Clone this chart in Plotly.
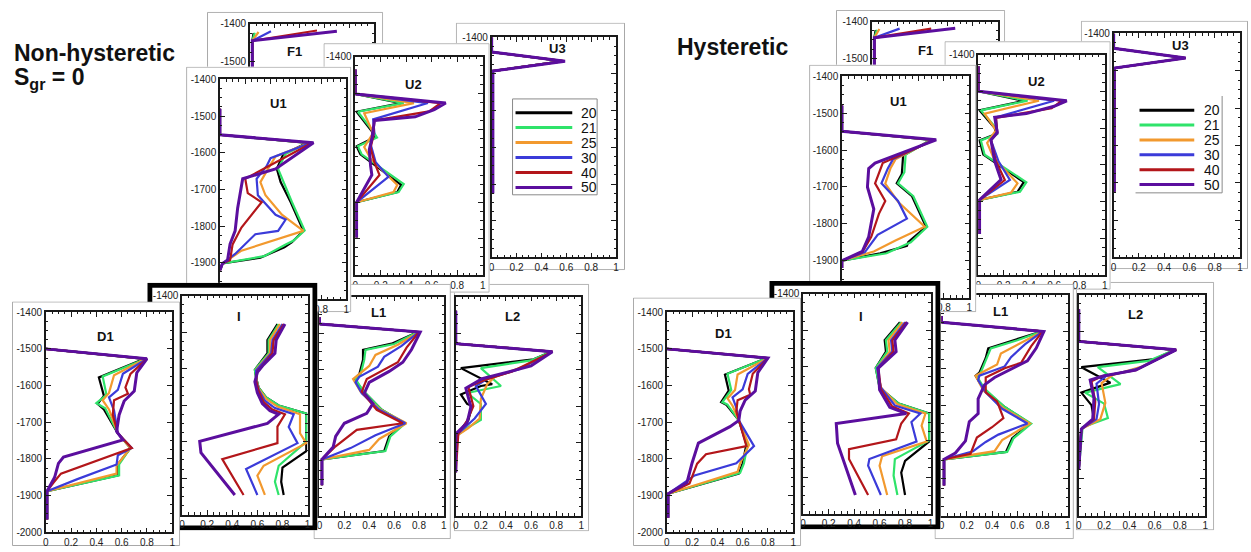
import plotly.graph_objects as go

W, H = 1251, 552

SERIES = ["20", "21", "25", "30", "40", "50"]
COLORS = ["#000000", "#2fe36a", "#f2992e", "#3b3bd9", "#b3161a", "#5b0e9e"]
WIDTHS = [2.2, 2.2, 2.2, 2.2, 2.2, 3.0]
X_TICKS = [0, 0.2, 0.4, 0.6, 0.8, 1]
X_LABELS = ["0", "0.2", "0.4", "0.6", "0.8", "1"]
Y_TICKS = [-2000, -1900, -1800, -1700, -1600, -1500, -1400]
Y_LABELS = ["-2000", "-1900", "-1800", "-1700", "-1600", "-1500", "-1400"]

# ---------------- Non-hysteretic (Sgr = 0) ----------------
NH_F1 = {
    "20": [(0.03, -1425), (0.02, -1445), (0.02, -1600)],
    "21": [(0.04, -1424), (0.02, -1445), (0.02, -1600)],
    "25": [(0.07, -1422), (0.02, -1445), (0.02, -1600)],
    "30": [(0.17, -1420), (0.02, -1445), (0.02, -1600)],
    "40": [(0.54, -1418), (0.02, -1445), (0.02, -1600)],
    "50": [(0.70, -1420), (0.02, -1445), (0.02, -1600)],
}
NH_U3 = {
    "20": [(0, -1400), (0, -1440), (0.57, -1465), (0.01, -1492), (0.01, -1826)],
    "21": [(0, -1400), (0, -1440), (0.57, -1465), (0.01, -1492), (0.01, -1826)],
    "25": [(0, -1400), (0, -1440), (0.58, -1465), (0.01, -1492), (0.01, -1826)],
    "30": [(0, -1400), (0, -1440), (0.58, -1465), (0.01, -1492), (0.01, -1826)],
    "40": [(0, -1400), (0, -1440), (0.58, -1465), (0.01, -1492), (0.01, -1826)],
    "50": [(0, -1400), (0, -1440), (0.59, -1465), (0.01, -1492), (0.01, -1826)],
}
NH_U2 = {
    "20": [(0, -1435), (0, -1502), (0.36, -1527), (0.01, -1551), (0.13, -1605), (0.15, -1622), (0.01, -1646), (0.04, -1668), (0.36, -1752), (0.33, -1772), (0.01, -1800), (0.01, -1897)],
    "21": [(0, -1435), (0, -1502), (0.38, -1527), (0.02, -1551), (0.14, -1605), (0.17, -1622), (0.02, -1646), (0.05, -1668), (0.38, -1750), (0.34, -1772), (0.01, -1800), (0.01, -1897)],
    "25": [(0, -1435), (0, -1502), (0.46, -1527), (0.07, -1555), (0.14, -1610), (0.10, -1630), (0.07, -1648), (0.12, -1680), (0.33, -1752), (0.30, -1772), (0.01, -1800), (0.01, -1897)],
    "30": [(0, -1435), (0, -1502), (0.57, -1527), (0.14, -1572), (0.15, -1610), (0.12, -1640), (0.16, -1690), (0.26, -1730), (0.01, -1800), (0.01, -1897)],
    "40": [(0, -1435), (0, -1502), (0.67, -1527), (0.58, -1550), (0.15, -1575), (0.14, -1620), (0.12, -1650), (0.15, -1690), (0.19, -1725), (0.01, -1800), (0.01, -1897)],
    "50": [(0, -1435), (0, -1502), (0.71, -1527), (0.62, -1545), (0.47, -1565), (0.15, -1575), (0.13, -1625), (0.11, -1655), (0.12, -1700), (0.13, -1725), (0.01, -1800), (0.01, -1897)],
}
NH_U1 = {
    "20": [(0, -1480), (0, -1551), (0.69, -1573), (0.50, -1605), (0.45, -1644), (0.48, -1680), (0.56, -1735), (0.66, -1813), (0.57, -1844), (0.51, -1858), (0.32, -1886), (0.02, -1902), (0, -1920)],
    "21": [(0, -1480), (0, -1551), (0.70, -1573), (0.52, -1603), (0.46, -1644), (0.50, -1678), (0.57, -1735), (0.67, -1812), (0.58, -1840), (0.52, -1850), (0.35, -1882), (0.02, -1902), (0, -1920)],
    "25": [(0, -1480), (0, -1551), (0.71, -1573), (0.44, -1610), (0.38, -1644), (0.32, -1680), (0.36, -1716), (0.49, -1769), (0.66, -1813), (0.41, -1840), (0.17, -1867), (0.02, -1902), (0, -1920)],
    "30": [(0, -1480), (0, -1551), (0.72, -1573), (0.40, -1615), (0.37, -1636), (0.29, -1671), (0.30, -1716), (0.44, -1769), (0.52, -1782), (0.46, -1813), (0.28, -1822), (0.12, -1876), (0.02, -1902), (0, -1920)],
    "40": [(0, -1480), (0, -1551), (0.73, -1573), (0.42, -1630), (0.20, -1671), (0.22, -1710), (0.33, -1735), (0.17, -1804), (0.10, -1850), (0.08, -1893), (0.02, -1902), (0, -1920)],
    "50": [(0, -1480), (0, -1551), (0.74, -1573), (0.44, -1644), (0.18, -1671), (0.14, -1751), (0.12, -1813), (0.08, -1849), (0.06, -1893), (0.02, -1902), (0, -1920)],
}
NH_L2 = {
    "20": [(0, -1439), (0, -1529), (0.76, -1551), (0.62, -1572), (0.04, -1596), (0.29, -1640), (0.20, -1645), (0.04, -1668), (0.09, -1694), (0.13, -1700), (0.10, -1738), (0.0, -1783), (0.0, -1881)],
    "21": [(0, -1439), (0, -1529), (0.76, -1551), (0.60, -1575), (0.20, -1596), (0.36, -1645), (0.09, -1664), (0.20, -1694), (0.20, -1738), (0.09, -1760), (0.0, -1783), (0.0, -1881)],
    "25": [(0, -1439), (0, -1529), (0.77, -1551), (0.55, -1590), (0.31, -1620), (0.25, -1640), (0.20, -1680), (0.19, -1734), (0.10, -1760), (0.0, -1783), (0.0, -1881)],
    "30": [(0, -1439), (0, -1529), (0.77, -1551), (0.50, -1600), (0.25, -1625), (0.16, -1645), (0.24, -1694), (0.15, -1734), (0.02, -1775), (0.0, -1783), (0.0, -1881)],
    "40": [(0, -1439), (0, -1529), (0.77, -1551), (0.45, -1605), (0.22, -1630), (0.10, -1648), (0.14, -1700), (0.09, -1740), (0.02, -1775), (0.0, -1881)],
    "50": [(0, -1439), (0, -1529), (0.77, -1551), (0.60, -1590), (0.21, -1625), (0.08, -1651), (0.12, -1702), (0.09, -1746), (0.0, -1776), (0.0, -1881)],
}
NH_L1 = {
    "20": [(0, -1457), (0, -1475), (0.79, -1497), (0.58, -1529), (0.35, -1546), (0.35, -1573), (0.32, -1613), (0.28, -1626), (0.35, -1658), (0.50, -1710), (0.68, -1747), (0.56, -1783), (0.52, -1823), (0.02, -1846), (0.02, -1917)],
    "21": [(0, -1457), (0, -1475), (0.79, -1497), (0.60, -1530), (0.37, -1546), (0.36, -1573), (0.33, -1613), (0.29, -1626), (0.35, -1658), (0.50, -1710), (0.69, -1747), (0.57, -1783), (0.53, -1823), (0.02, -1846), (0.02, -1917)],
    "25": [(0, -1457), (0, -1475), (0.80, -1497), (0.63, -1532), (0.45, -1560), (0.40, -1590), (0.27, -1626), (0.33, -1660), (0.49, -1710), (0.70, -1747), (0.48, -1790), (0.40, -1820), (0.02, -1846), (0.02, -1917)],
    "30": [(0, -1457), (0, -1475), (0.80, -1497), (0.66, -1535), (0.52, -1565), (0.47, -1592), (0.32, -1620), (0.29, -1635), (0.34, -1665), (0.48, -1710), (0.69, -1747), (0.45, -1780), (0.25, -1815), (0.02, -1846), (0.02, -1917)],
    "40": [(0, -1457), (0, -1475), (0.80, -1497), (0.70, -1540), (0.63, -1580), (0.52, -1600), (0.38, -1626), (0.34, -1660), (0.46, -1710), (0.67, -1747), (0.30, -1765), (0.13, -1810), (0.02, -1846), (0.02, -1917)],
    "50": [(0, -1457), (0, -1475), (0.81, -1497), (0.74, -1545), (0.67, -1580), (0.56, -1605), (0.40, -1635), (0.36, -1665), (0.43, -1693), (0.38, -1720), (0.20, -1747), (0.13, -1783), (0.11, -1812), (0.02, -1846), (0.02, -1917)],
}
NH_I = {
    "20": [(0.76, -1478), (0.68, -1522), (0.68, -1558), (0.61, -1589), (0.58, -1603), (0.59, -1625), (0.61, -1652), (0.67, -1679), (0.77, -1701), (0.99, -1723), (0.99, -1826), (0.80, -1871), (0.79, -1910), (0.81, -1946)],
    "21": [(0.77, -1478), (0.69, -1522), (0.69, -1558), (0.61, -1589), (0.58, -1603), (0.59, -1625), (0.61, -1652), (0.67, -1679), (0.77, -1701), (0.99, -1723), (0.99, -1800), (0.77, -1866), (0.74, -1910), (0.77, -1946)],
    "25": [(0.78, -1478), (0.70, -1522), (0.70, -1558), (0.62, -1589), (0.59, -1603), (0.59, -1627), (0.61, -1655), (0.67, -1683), (0.76, -1704), (0.94, -1725), (0.94, -1777), (0.99, -1804), (0.65, -1866), (0.60, -1893), (0.66, -1946)],
    "30": [(0.80, -1478), (0.72, -1522), (0.71, -1558), (0.63, -1589), (0.59, -1605), (0.59, -1630), (0.61, -1658), (0.66, -1688), (0.74, -1708), (0.89, -1725), (0.85, -1760), (0.92, -1804), (0.51, -1875), (0.60, -1946)],
    "40": [(0.81, -1478), (0.73, -1522), (0.72, -1558), (0.64, -1589), (0.60, -1607), (0.59, -1633), (0.61, -1662), (0.65, -1692), (0.72, -1712), (0.82, -1725), (0.76, -1759), (0.76, -1804), (0.32, -1848), (0.49, -1946)],
    "50": [(0.82, -1478), (0.75, -1522), (0.74, -1558), (0.65, -1589), (0.60, -1610), (0.58, -1636), (0.60, -1666), (0.64, -1696), (0.70, -1715), (0.77, -1725), (0.68, -1750), (0.14, -1799), (0.15, -1830), (0.42, -1946)],
}
NH_D1 = {
    "20": [(0, -1500), (0.78, -1527), (0.42, -1578), (0.46, -1628), (0.41, -1650), (0.46, -1665), (0.57, -1730), (0.67, -1770), (0.57, -1815), (0.57, -1845), (0.01, -1888), (0.01, -1965)],
    "21": [(0, -1500), (0.79, -1527), (0.45, -1575), (0.48, -1625), (0.40, -1648), (0.47, -1662), (0.57, -1730), (0.67, -1770), (0.58, -1815), (0.58, -1845), (0.01, -1888), (0.01, -1965)],
    "25": [(0, -1500), (0.79, -1527), (0.54, -1572), (0.50, -1620), (0.45, -1640), (0.50, -1665), (0.57, -1730), (0.67, -1770), (0.56, -1818), (0.56, -1840), (0.01, -1888), (0.01, -1965)],
    "30": [(0, -1500), (0.80, -1527), (0.61, -1568), (0.57, -1612), (0.50, -1632), (0.54, -1668), (0.57, -1730), (0.68, -1770), (0.57, -1790), (0.56, -1815), (0.25, -1855), (0.01, -1888), (0.01, -1965)],
    "40": [(0, -1500), (0.80, -1527), (0.67, -1568), (0.63, -1605), (0.65, -1622), (0.54, -1640), (0.53, -1680), (0.57, -1730), (0.68, -1770), (0.12, -1840), (0.06, -1865), (0.01, -1888), (0.01, -1965)],
    "50": [(0, -1500), (0.80, -1527), (0.72, -1565), (0.70, -1615), (0.62, -1642), (0.58, -1680), (0.56, -1725), (0.61, -1748), (0.14, -1795), (0.10, -1812), (0.07, -1850), (0.01, -1888), (0.01, -1965)],
}

# ---------------- Hysteretic ----------------
H_F1 = {
    "20": [(0.03, -1423), (0.02, -1444), (0.02, -1600)],
    "21": [(0.04, -1422), (0.02, -1444), (0.02, -1600)],
    "25": [(0.06, -1420), (0.02, -1444), (0.02, -1600)],
    "30": [(0.22, -1419), (0.02, -1444), (0.02, -1600)],
    "40": [(0.47, -1419), (0.02, -1444), (0.02, -1600)],
    "50": [(0.66, -1418), (0.02, -1444), (0.02, -1600)],
}
H_U3 = {
    "20": [(0, -1400), (0, -1440), (0.56, -1466), (0.005, -1493), (0.005, -1824)],
    "21": [(0, -1400), (0, -1440), (0.56, -1466), (0.005, -1493), (0.005, -1824)],
    "25": [(0, -1400), (0, -1440), (0.57, -1466), (0.005, -1493), (0.005, -1824)],
    "30": [(0, -1400), (0, -1440), (0.57, -1466), (0.005, -1493), (0.005, -1824)],
    "40": [(0, -1400), (0, -1440), (0.57, -1466), (0.005, -1493), (0.005, -1824)],
    "50": [(0, -1400), (0, -1440), (0.57, -1466), (0.005, -1493), (0.005, -1824)],
}
H_U2 = {
    "20": [(0, -1431), (0, -1499), (0.36, -1525), (0.01, -1551), (0.13, -1599), (0.14, -1616), (0.01, -1633), (0.04, -1672), (0.36, -1747), (0.31, -1773), (0.01, -1795), (0.01, -1888)],
    "21": [(0, -1431), (0, -1499), (0.39, -1525), (0.02, -1551), (0.14, -1599), (0.15, -1616), (0.02, -1633), (0.05, -1672), (0.38, -1747), (0.33, -1773), (0.01, -1795), (0.01, -1888)],
    "25": [(0, -1431), (0, -1499), (0.48, -1525), (0.05, -1560), (0.14, -1605), (0.10, -1625), (0.07, -1640), (0.12, -1680), (0.31, -1750), (0.26, -1775), (0.01, -1795), (0.01, -1888)],
    "30": [(0, -1431), (0, -1499), (0.60, -1525), (0.14, -1570), (0.15, -1610), (0.10, -1632), (0.16, -1690), (0.25, -1741), (0.01, -1795), (0.01, -1888)],
    "40": [(0, -1431), (0, -1499), (0.66, -1525), (0.58, -1545), (0.14, -1572), (0.15, -1612), (0.10, -1632), (0.14, -1690), (0.21, -1741), (0.01, -1795), (0.01, -1888)],
    "50": [(0, -1431), (0, -1499), (0.70, -1525), (0.60, -1540), (0.38, -1560), (0.13, -1570), (0.15, -1612), (0.10, -1632), (0.13, -1690), (0.18, -1740), (0.01, -1795), (0.01, -1888)],
}
H_U1 = {
    "20": [(0, -1479), (0, -1549), (0.70, -1572), (0.48, -1615), (0.47, -1665), (0.43, -1690), (0.55, -1725), (0.60, -1765), (0.66, -1808), (0.52, -1850), (0.51, -1860), (0.30, -1880), (0.0, -1900), (0, -1920)],
    "21": [(0, -1479), (0, -1549), (0.70, -1572), (0.50, -1612), (0.49, -1660), (0.44, -1690), (0.56, -1725), (0.61, -1765), (0.67, -1808), (0.54, -1850), (0.35, -1880), (0.0, -1900), (0, -1920)],
    "25": [(0, -1479), (0, -1549), (0.71, -1572), (0.42, -1625), (0.38, -1650), (0.34, -1691), (0.44, -1740), (0.65, -1808), (0.42, -1845), (0.25, -1875), (0.0, -1900), (0, -1920)],
    "30": [(0, -1479), (0, -1549), (0.72, -1572), (0.40, -1625), (0.36, -1650), (0.31, -1690), (0.44, -1738), (0.51, -1786), (0.28, -1830), (0.18, -1877), (0.0, -1900), (0, -1920)],
    "40": [(0, -1479), (0, -1549), (0.73, -1572), (0.32, -1635), (0.26, -1690), (0.34, -1738), (0.29, -1773), (0.23, -1835), (0.16, -1877), (0.0, -1900), (0, -1920)],
    "50": [(0, -1479), (0, -1549), (0.74, -1572), (0.26, -1635), (0.21, -1650), (0.20, -1700), (0.25, -1760), (0.21, -1835), (0.16, -1875), (0.0, -1900), (0, -1920)],
}
H_L2 = {
    "20": [(0, -1440), (0, -1527), (0.76, -1550), (0.60, -1575), (0.02, -1597), (0.25, -1639), (0.02, -1666), (0.10, -1700), (0.12, -1738), (0.02, -1765), (0.0, -1873)],
    "21": [(0, -1440), (0, -1527), (0.76, -1550), (0.55, -1580), (0.15, -1597), (0.33, -1643), (0.05, -1666), (0.20, -1696), (0.23, -1735), (0.03, -1760), (0.0, -1873)],
    "25": [(0, -1440), (0, -1527), (0.77, -1550), (0.50, -1595), (0.27, -1618), (0.18, -1640), (0.21, -1694), (0.17, -1738), (0.02, -1765), (0.0, -1873)],
    "30": [(0, -1440), (0, -1527), (0.77, -1550), (0.48, -1600), (0.22, -1620), (0.14, -1642), (0.16, -1697), (0.14, -1738), (0.02, -1765), (0.0, -1873)],
    "40": [(0, -1440), (0, -1527), (0.77, -1550), (0.45, -1605), (0.18, -1622), (0.10, -1635), (0.13, -1690), (0.12, -1738), (0.02, -1765), (0.0, -1873)],
    "50": [(0, -1440), (0, -1527), (0.77, -1550), (0.45, -1605), (0.20, -1620), (0.09, -1632), (0.12, -1681), (0.11, -1738), (0.02, -1765), (0.0, -1873)],
}
H_L1 = {
    "20": [(0, -1458), (0, -1475), (0.79, -1500), (0.58, -1522), (0.37, -1546), (0.35, -1572), (0.30, -1612), (0.27, -1620), (0.33, -1655), (0.50, -1705), (0.70, -1750), (0.56, -1790), (0.51, -1827), (0.02, -1847), (0.02, -1918)],
    "21": [(0, -1458), (0, -1475), (0.79, -1500), (0.60, -1524), (0.39, -1546), (0.36, -1572), (0.31, -1612), (0.28, -1622), (0.34, -1655), (0.50, -1705), (0.71, -1750), (0.57, -1790), (0.52, -1827), (0.02, -1847), (0.02, -1918)],
    "25": [(0, -1458), (0, -1475), (0.80, -1500), (0.63, -1530), (0.47, -1560), (0.44, -1590), (0.27, -1620), (0.33, -1660), (0.49, -1708), (0.70, -1750), (0.48, -1795), (0.42, -1825), (0.02, -1847), (0.02, -1918)],
    "30": [(0, -1458), (0, -1475), (0.80, -1500), (0.66, -1535), (0.55, -1570), (0.50, -1595), (0.30, -1620), (0.29, -1632), (0.35, -1665), (0.48, -1710), (0.68, -1750), (0.45, -1780), (0.35, -1800), (0.25, -1825), (0.02, -1847), (0.02, -1918)],
    "40": [(0, -1458), (0, -1475), (0.80, -1500), (0.71, -1540), (0.63, -1585), (0.50, -1600), (0.35, -1625), (0.35, -1665), (0.44, -1690), (0.49, -1735), (0.40, -1760), (0.28, -1788), (0.23, -1832), (0.02, -1847), (0.02, -1918)],
    "50": [(0, -1458), (0, -1475), (0.81, -1500), (0.75, -1545), (0.68, -1580), (0.58, -1598), (0.42, -1625), (0.34, -1645), (0.29, -1683), (0.29, -1723), (0.22, -1745), (0.19, -1797), (0.11, -1830), (0.02, -1847), (0.02, -1918)],
}
H_I = {
    "20": [(0.76, -1478), (0.64, -1527), (0.65, -1558), (0.57, -1603), (0.60, -1656), (0.75, -1700), (0.99, -1727), (0.99, -1803), (0.80, -1856), (0.77, -1888), (0.80, -1949)],
    "21": [(0.77, -1478), (0.65, -1527), (0.66, -1558), (0.57, -1603), (0.60, -1656), (0.75, -1700), (0.99, -1727), (0.99, -1800), (0.72, -1851), (0.71, -1896), (0.74, -1949)],
    "25": [(0.78, -1478), (0.67, -1527), (0.68, -1558), (0.58, -1603), (0.61, -1656), (0.74, -1702), (0.96, -1727), (0.93, -1760), (0.97, -1803), (0.62, -1843), (0.60, -1869), (0.66, -1949)],
    "30": [(0.80, -1478), (0.69, -1527), (0.70, -1558), (0.58, -1603), (0.61, -1656), (0.72, -1705), (0.92, -1727), (0.85, -1750), (0.89, -1803), (0.52, -1851), (0.51, -1869), (0.61, -1949)],
    "40": [(0.81, -1478), (0.70, -1527), (0.71, -1558), (0.59, -1603), (0.61, -1660), (0.70, -1708), (0.83, -1727), (0.77, -1754), (0.73, -1797), (0.36, -1824), (0.36, -1851), (0.51, -1949)],
    "50": [(0.82, -1478), (0.72, -1527), (0.73, -1558), (0.59, -1603), (0.60, -1662), (0.68, -1710), (0.81, -1727), (0.26, -1754), (0.27, -1808), (0.41, -1949)],
}
H_D1 = {
    "20": [(0, -1500), (0.79, -1525), (0.46, -1570), (0.49, -1614), (0.43, -1645), (0.47, -1652), (0.57, -1695), (0.63, -1760), (0.60, -1812), (0.57, -1840), (0.01, -1895), (0.01, -1960)],
    "21": [(0, -1500), (0.79, -1525), (0.48, -1568), (0.51, -1612), (0.44, -1645), (0.48, -1652), (0.57, -1695), (0.64, -1760), (0.61, -1812), (0.58, -1838), (0.01, -1895), (0.01, -1960)],
    "25": [(0, -1500), (0.80, -1525), (0.56, -1570), (0.54, -1612), (0.48, -1635), (0.52, -1655), (0.57, -1695), (0.65, -1762), (0.58, -1812), (0.56, -1835), (0.01, -1895), (0.01, -1960)],
    "30": [(0, -1500), (0.80, -1525), (0.64, -1568), (0.60, -1610), (0.52, -1632), (0.55, -1660), (0.57, -1695), (0.69, -1765), (0.55, -1812), (0.22, -1845), (0.01, -1895), (0.01, -1960)],
    "40": [(0, -1500), (0.80, -1525), (0.68, -1568), (0.65, -1610), (0.66, -1625), (0.56, -1640), (0.55, -1670), (0.57, -1695), (0.63, -1765), (0.31, -1787), (0.24, -1813), (0.18, -1867), (0.01, -1895), (0.01, -1960)],
    "50": [(0, -1500), (0.80, -1525), (0.72, -1565), (0.70, -1615), (0.62, -1640), (0.58, -1670), (0.57, -1695), (0.50, -1712), (0.25, -1757), (0.20, -1811), (0.16, -1864), (0.01, -1895), (0.01, -1960)],
}

GRAY = "#a8a8a8"
ALLX = set(X_LABELS)
ALLY = set(Y_LABELS)
# Panels in back-to-front drawing order. frame = plot area (px), box = white card (px),
# xl / yl = tick labels that are not covered by a neighbouring card.
PANELS = [
    dict(name="F1", data=NH_F1, frame=(248, 18, 373, 252), box=(205, 6, 382, 260), bc=GRAY, bw=1, title=(293, 47), xl=set(), yl={"-1400", "-1500"}),
    dict(name="U3", data=NH_U3, frame=(491, 32, 616, 257), box=(455, 17, 625, 270), bc=GRAY, bw=1, title=(557, 43), xl=ALLX, yl={"-1400"}),
    dict(name="L2", data=NH_L2, frame=(455, 297, 581, 521), box=(453, 284, 589, 537), bc=GRAY, bw=1, title=(512, 317), xl=ALLX, yl=set()),
    dict(name="U2", data=NH_U2, frame=(354, 52, 482, 275), box=(322, 38, 489, 293), bc=GRAY, bw=1, title=(412, 80), xl=ALLX, yl={"-1400"}),
    dict(name="L1", data=NH_L1, frame=(318, 297, 443, 521), box=(312, 284, 450, 545), bc=GRAY, bw=1, title=(377, 313), xl=ALLX, yl=set()),
    dict(name="U1", data=NH_U1, frame=(218, 75, 345, 300), box=(184, 62, 350, 313), bc=GRAY, bw=1, title=(277, 100), xl={"0.8", "1"}, yl=ALLY - {"-2000"}),
    dict(name="I", data=NH_I, frame=(180, 296, 306, 520), box=(145, 283, 316, 536), bc="#000000", bw=5, title=(237, 317), xl=ALLX, yl={"-1400"}),
    dict(name="D1", data=NH_D1, frame=(43, 313, 170, 538), box=(9, 302, 178, 552), bc=GRAY, bw=1, title=(103, 338), xl=ALLX, yl=ALLY),
    dict(name="F1", data=H_F1, frame=(873, 16, 1000, 241), box=(837, 4, 1007, 250), bc=GRAY, bw=1, title=(927, 45), xl=set(), yl={"-1400", "-1500"}),
    dict(name="U3", data=H_U3, frame=(1116, 28, 1243, 257), box=(1083, 15, 1251, 269), bc=GRAY, bw=1, title=(1183, 40), xl=ALLX, yl={"-1400"}),
    dict(name="L2", data=H_L2, frame=(1081, 295, 1208, 521), box=(1078, 282, 1217, 536), bc=GRAY, bw=1, title=(1138, 315), xl=ALLX, yl=set()),
    dict(name="U2", data=H_U2, frame=(980, 50, 1107, 275), box=(946, 36, 1113, 290), bc=GRAY, bw=1, title=(1038, 77), xl=ALLX, yl={"-1400"}),
    dict(name="L1", data=H_L1, frame=(943, 295, 1070, 521), box=(936, 284, 1076, 545), bc=GRAY, bw=1, title=(1002, 312), xl=ALLX, yl=set()),
    dict(name="U1", data=H_U1, frame=(843, 72, 971, 298), box=(810, 60, 978, 313), bc=GRAY, bw=1, title=(900, 98), xl={"0.8", "1"}, yl=ALLY - {"-2000"}),
    dict(name="I", data=H_I, frame=(804, 294, 932, 519), box=(770, 281, 942, 535), bc="#000000", bw=5, title=(862, 317), xl=ALLX, yl={"-1400"}),
    dict(name="D1", data=H_D1, frame=(667, 313, 794, 538), box=(633, 298, 802, 552), bc=GRAY, bw=1, title=(724, 335), xl=ALLX, yl=ALLY),
]

# manual legends (box l,t,r,b ; line x0,x1 ; text x ; first row y ; row step ; which edges drawn)
LEGENDS = [
    dict(box=(512, 95, 597, 193), line=(515, 572), tx=579, y0=109, dy=15.3, full=True),
    dict(box=(1138, 92, 1225, 191), line=(1142, 1197), tx=1205, y0=106.5, dy=15.2, full=False),
]

FONT = "Liberation Sans, Arial, sans-serif"
TICKFONT = dict(family=FONT, size=10, color="#222222")


def axid(k):
    return "" if k == 1 else str(k)


def px(x):
    return x / W


def py(y):
    return 1 - y / H


fig = go.Figure()
layout = {}
shapes, annotations = [], []
n = 0
for p in PANELS:
    # white card behind the panel (its own hidden subplot so that it hides earlier panels)
    n += 1
    k = axid(n)
    bl, bt, br, bb = p["box"]
    fig.add_trace(go.Scatter(x=[], y=[], xaxis="x" + k, yaxis="y" + k,
                             showlegend=False, hoverinfo="skip"))
    layout["xaxis" + k] = dict(domain=[px(bl), px(br)], range=[bl, br], visible=False,
                               anchor="y" + k, fixedrange=True)
    layout["yaxis" + k] = dict(domain=[py(bb), py(bt)], range=[bb, bt], visible=False,
                               anchor="x" + k, fixedrange=True)
    lw = p["bw"]
    shapes.append(dict(type="rect", xref="x" + k, yref="y" + k, layer="below",
                       x0=bl + lw / 2, x1=br - lw / 2, y0=bt + lw / 2, y1=bb - lw / 2,
                       fillcolor="white", line=dict(color=p["bc"], width=lw)))
    # the profile panel itself
    n += 1
    k = axid(n)
    fl, ft, fr, fb = p["frame"]
    for i, s in enumerate(SERIES):
        pts = p["data"][s]
        fig.add_trace(go.Scatter(
            x=[q[0] for q in pts], y=[q[1] for q in pts], mode="lines", name=s,
            line=dict(color=COLORS[i], width=WIDTHS[i]), xaxis="x" + k, yaxis="y" + k,
            cliponaxis=False, showlegend=False, hoverinfo="skip"))
    common = dict(showline=True, linecolor="#1a1a1a", linewidth=1.5, mirror="ticks",
                  ticks="inside", ticklen=5, tickwidth=1, tickcolor="#1a1a1a",
                  showgrid=False, zeroline=False, tickfont=TICKFONT, fixedrange=True,
                  tickmode="array")
    layout["xaxis" + k] = dict(domain=[px(fl), px(fr)], range=[0, 1], anchor="y" + k,
                               tickvals=X_TICKS,
                               ticktext=[t if t in p["xl"] else "" for t in X_LABELS],
                               minor=dict(tickmode="linear", tick0=0, dtick=0.05, ticks="inside",
                                          ticklen=2.5, tickcolor="#1a1a1a", showgrid=False),
                               **common)
    layout["yaxis" + k] = dict(domain=[py(fb), py(ft)], range=[-2000, -1400], anchor="x" + k,
                               tickvals=Y_TICKS,
                               ticktext=[t if t in p["yl"] else "" for t in Y_LABELS],
                               minor=dict(tickmode="linear", tick0=-2000, dtick=25, ticks="inside",
                                          ticklen=2.5, tickcolor="#1a1a1a", showgrid=False),
                               **common)
    tx, ty = p["title"]
    annotations.append(dict(text="<b>%s</b>" % p["name"], x=px(tx), y=py(ty), xref="paper",
                            yref="paper", showarrow=False, xanchor="center", yanchor="middle",
                            font=dict(family=FONT, size=13, color="#111111")))

# legends
for lg in LEGENDS:
    l, t, r, b = lg["box"]
    if lg["full"]:
        shapes.append(dict(type="rect", xref="paper", yref="paper", layer="above",
                           x0=px(l), x1=px(r), y0=py(b), y1=py(t), fillcolor="white",
                           line=dict(color="#8a8a8a", width=1)))
    else:
        shapes.append(dict(type="rect", xref="paper", yref="paper", layer="above",
                           x0=px(l), x1=px(r), y0=py(b), y1=py(t), fillcolor="white",
                           line=dict(width=0)))
        shapes.append(dict(type="path", xref="paper", yref="paper", layer="above",
                           path="M %f %f L %f %f L %f %f" % (px(l), py(b), px(r), py(b), px(r), py(t)),
                           line=dict(color="#8a8a8a", width=1)))
    x0, x1 = lg["line"]
    for i, s in enumerate(SERIES):
        yy = lg["y0"] + i * lg["dy"]
        shapes.append(dict(type="line", xref="paper", yref="paper", layer="above",
                           x0=px(x0), x1=px(x1), y0=py(yy), y1=py(yy),
                           line=dict(color=COLORS[i], width=3)))
        annotations.append(dict(text=s, x=px(lg["tx"]), y=py(yy), xref="paper", yref="paper",
                                showarrow=False, xanchor="left", yanchor="middle",
                                font=dict(family=FONT, size=14, color="#111111")))

annotations += [
    dict(text="<b>Non-hysteretic</b>", x=px(9), y=py(48), xref="paper", yref="paper",
         showarrow=False, xanchor="left", yanchor="middle", font=dict(family=FONT, size=23, color="#111")),
    dict(text="<b>S<sub>gr</sub> = 0</b>", x=px(9), y=py(74), xref="paper", yref="paper",
         showarrow=False, xanchor="left", yanchor="middle", font=dict(family=FONT, size=23, color="#111")),
    dict(text="<b>Hysteretic</b>", x=px(675), y=py(42), xref="paper", yref="paper",
         showarrow=False, xanchor="left", yanchor="middle", font=dict(family=FONT, size=23, color="#111")),
]

fig.update_layout(
    width=W, height=H, autosize=False,
    margin=dict(l=0, r=0, t=0, b=0, pad=0),
    paper_bgcolor="white", plot_bgcolor="white",
    showlegend=False,
    shapes=shapes, annotations=annotations,
    **layout,
)

fig.write_html("out.html", config={"displayModeBar": False})
